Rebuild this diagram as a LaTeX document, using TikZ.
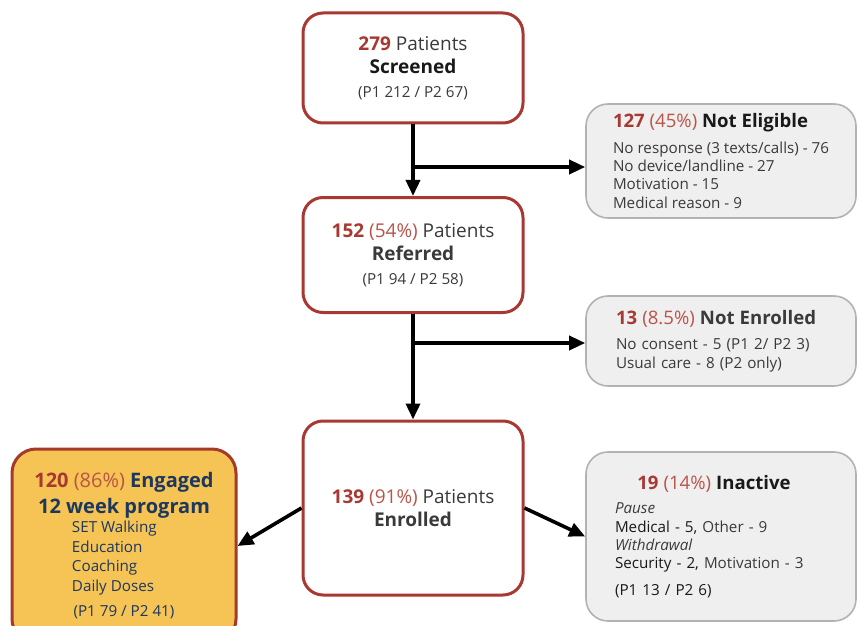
\documentclass[tikz,border=0pt]{standalone}
\usepackage{fontspec}
\setmainfont{Open Sans}
\usepackage{tikz}
\usetikzlibrary{arrows.meta,positioning}
\usepackage{xcolor}
\newcommand{\nbr}[1]{\textcolor{stagered}{\textbf{#1}}}
\newcommand{\pct}[1]{\textcolor{pctred}{#1}}
\newcommand{\engitem}[1]{\makebox[52pt][l]{#1}}
\definecolor{stagered}{RGB}{168,56,50}
\definecolor{pctred}{RGB}{186,84,74}
\definecolor{darktext}{RGB}{58,58,58}
\definecolor{headtext}{RGB}{25,25,25}
\definecolor{exitfill}{RGB}{239,239,239}
\definecolor{exitline}{RGB}{178,178,178}
\definecolor{engfill}{RGB}{245,196,84}
\definecolor{engline}{RGB}{165,58,42}
\definecolor{engblue}{RGB}{30,55,95}

\begin{document}
\begin{tikzpicture}[x=0.5pt,y=-0.5pt,
    every node/.style={font=\fontsize{9.5}{11.75}\selectfont, text=darktext},
    stagebox/.style={draw=stagered, line width=1.5pt, rounded corners=10pt, fill=white,
      minimum width=110pt, align=center, inner sep=0pt},
    exitbox/.style={draw=exitline, line width=0.8pt, rounded corners=11pt, fill=exitfill,
      minimum width=135pt, align=left, inner sep=0pt,
      font=\fontsize{7.6}{9.2}\selectfont},
    flow/.style={-{Triangle[length=8pt,width=7pt]}, line width=1.8pt, black}]
  \useasboundingbox (0,0) rectangle (857,626);

  % main stages
  \node[stagebox, minimum height=55pt] (scr) at (413,68)
    {\nbr{279} Patients\\ \textcolor{headtext}{\textbf{Screened}}\\
     {\fontsize{7.6}{9}\selectfont (P1 212 / P2 67)}};
  \node[stagebox, minimum height=57.5pt] (ref) at (413,255)
    {\nbr{152} \pct{(54\%)} Patients\\ \textbf{Referred}\\
     {\fontsize{7.6}{9}\selectfont (P1 94 / P2 58)}};
  \node[stagebox, minimum height=87pt] (enr) at (413,508)
    {\nbr{139} \pct{(91\%)} Patients\\ \textbf{Enrolled}};

  % exits on the right
  \node[exitbox, minimum height=57pt] (ne) at (721,161)
    {{\fontsize{9.3}{11}\selectfont\nbr{127} \pct{(45\%)} \textcolor{headtext}{\textbf{Not Eligible}}}\\[3.5pt]
     No response (3 texts/calls) - 76\\
     No device/landline - 27\\
     Motivation - 15\\
     Medical reason - 9};
  \node[exitbox, text width=105pt, minimum height=45pt] (nen) at (721,341)
    {{\fontsize{9.3}{11}\selectfont\nbr{13} \pct{(8.5\%)} \textbf{Not Enrolled}}\\[3.5pt]
     No consent - 5 (P1 2/ P2 3)\\
     Usual care - 8 (P2 only)};
  \node[exitbox, text width=106pt, minimum height=84.5pt] (ina) at (721,536.5)
    {\makebox[\linewidth]{\fontsize{9.3}{11}\selectfont\hspace*{-7pt}\nbr{19} \pct{(14\%)} \textcolor{headtext}{\textbf{Inactive}}}\\[3pt]
     \textit{Pause}\\
     \textcolor{headtext}{Medical - 5,} Other - 9\\
     \textit{Withdrawal}\\
     \textcolor{headtext}{Security - 2,} Motivation - 3\\[4pt]
     \textcolor{headtext}{(P1 13 / P2 6)}};

  % engaged
  \node[draw=engline, line width=1.5pt, rounded corners=12pt, fill=engfill,
        minimum width=112pt, minimum height=97pt, inner sep=0pt, align=center,
        text=engblue] (eng) at (124,546)
    {{\fontsize{10}{12.5}\selectfont\bfseries\nbr{120} {\mdseries\pct{(86\%)}} Engaged}\\[1pt]
     {\fontsize{10}{12.5}\selectfont\bfseries 12 week program}\\[-2pt]
     {\fontsize{7.6}{9.25}\selectfont\engitem{SET Walking}}\\[-2pt]
     {\fontsize{7.6}{9.25}\selectfont\engitem{Education}}\\[-2pt]
     {\fontsize{7.6}{9.25}\selectfont\engitem{Coaching}}\\[-2pt]
     {\fontsize{7.6}{9.25}\selectfont\engitem{Daily Doses}}\\[1pt]
     {\fontsize{7.6}{9.25}\selectfont (P1 79 / P2 41)}};

  % flow arrows
  \coordinate (split1) at (413,167);
  \coordinate (split2) at (413,343);
  \draw[flow] (scr) -- (ref);
  \draw[flow] (split1) -- (split1 -| ne.west);
  \draw[flow] (ref) -- (enr);
  \draw[flow] (split2) -- (split2 -| nen.west);
  \draw[flow] (enr.west) -- (eng.east);
  \draw[flow] (enr.east) -- (ina.west);
\end{tikzpicture}
\end{document}
